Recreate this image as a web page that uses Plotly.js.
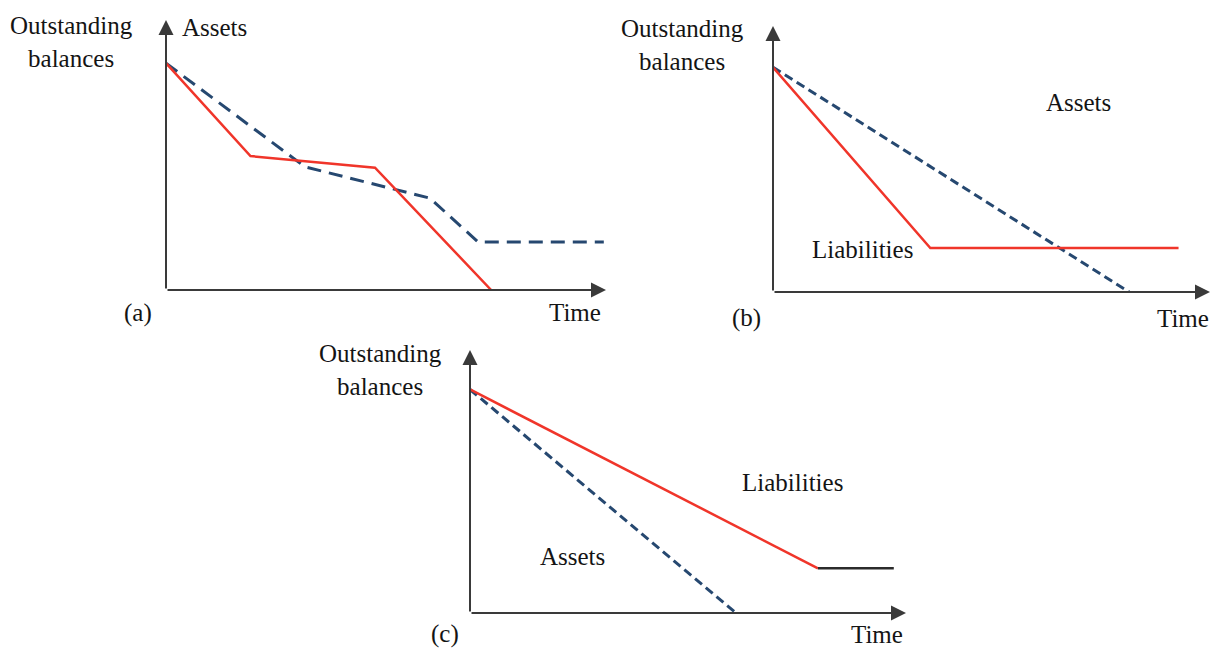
<!DOCTYPE html>
<html>
<head>
<meta charset="utf-8">
<script src="https://cdn.plot.ly/plotly-3.0.1.min.js"></script>
<style>html,body{margin:0;padding:0;background:#fff;}#chart{width:1213px;height:651px;}</style>
</head>
<body>
<div id="chart"></div>
<script>
// ---- Data (axis units: 0..10, where 10 is the arrow tip) ----
// Panel (a)
const aLiabX = [0, 1.92, 4.75, 7.39];
const aLiabY = [8.4, 4.96, 4.53, 0];
const aAssetX = [0, 3.16, 6.0, 7.09, 9.95];
const aAssetY = [8.4, 4.56, 3.4, 1.78, 1.78];
// Panel (b)
const bLiabX = [0, 3.6, 9.28];
const bLiabY = [8.45, 1.65, 1.65];
const bAssetX = [0, 8.15];
const bAssetY = [8.45, 0];
// Panel (c)
const cLiabX = [0, 7.98];
const cLiabY = [8.5, 1.7];
const cFlatX = [7.98, 9.72];
const cFlatY = [1.7, 1.7];
const cAssetX = [0, 6.1];
const cAssetY = [8.5, 0];

const yTitle = "Outstanding<br>balances";
const xTitle = "Time";
const panelLabels = ["(a)", "(b)", "(c)"];

const RED = "#f0352a";
const NAVY = "#264870";
const AXC = "#3a3a3a";
const FONT = {family: "Liberation Serif", size: 25, color: "#141414"};

function line(x, y, xa, ya, color, width, dash) {
  return {x: x, y: y, xaxis: xa, yaxis: ya, type: "scatter", mode: "lines",
          line: {color: color, width: width, dash: dash || "solid"},
          cliponaxis: false, hoverinfo: "skip"};
}

const traces = [
  line(aAssetX, aAssetY, "x", "y", NAVY, 3, "14px,8px"),
  line(aLiabX, aLiabY, "x", "y", RED, 2.5),
  line(bAssetX, bAssetY, "x2", "y2", NAVY, 3, "9px,5px"),
  line(bLiabX, bLiabY, "x2", "y2", RED, 2.5),
  line(cAssetX, cAssetY, "x3", "y3", NAVY, 3, "9px,5px"),
  line(cLiabX, cLiabY, "x3", "y3", RED, 2.5),
  line(cFlatX, cFlatY, "x3", "y3", "#2b2b2b", 2.5)
];

const W = 1213, H = 651;
function dom(px0, px1) { return [px0 / W, px1 / W]; }
function domY(pyBottom, pyTop) { return [1 - pyBottom / H, 1 - pyTop / H]; }

function ax(domain, anchor) {
  return {domain: domain, anchor: anchor, range: [0, 10], showgrid: false, zeroline: false,
          showline: false, showticklabels: false, ticks: "", fixedrange: true};
}

const layout = {
  width: W, height: H,
  margin: {l: 0, r: 0, t: 0, b: 0},
  paper_bgcolor: "#fff", plot_bgcolor: "rgba(0,0,0,0)",
  showlegend: false,
  font: {family: "Liberation Serif"},
  xaxis: ax(dom(166, 606), "y"),
  yaxis: ax(domY(290, 20), "x"),
  xaxis2: ax(dom(773, 1210), "y2"),
  yaxis2: ax(domY(292, 26), "x2"),
  xaxis3: ax(dom(470, 906), "y3"),
  yaxis3: ax(domY(613, 350), "x3"),
  annotations: []
};

const panels = [["x", "y"], ["x2", "y2"], ["x3", "y3"]];
panels.forEach(function (p) {
  const xr = p[0], yr = p[1];
  layout.annotations.push({xref: xr, yref: yr, axref: xr, ayref: yr, x: 10, y: 0, ax: 0, ay: 0,
    text: "", showarrow: true, arrowhead: 2, arrowsize: 1.5, arrowwidth: 2, arrowcolor: AXC});
  layout.annotations.push({xref: xr, yref: yr, axref: xr, ayref: yr, x: 0, y: 10, ax: 0, ay: 0,
    text: "", showarrow: true, arrowhead: 2, arrowsize: 1.5, arrowwidth: 2, arrowcolor: AXC});
});

function txt(text, axx, axy, x, y) {
  layout.annotations.push({text: text, xref: axx + " domain", yref: axy + " domain",
    x: x, y: y, xanchor: "center", yanchor: "middle", showarrow: false, font: FONT});
}
// Panel (a)
txt(yTitle, "x", "y", -0.214, 0.92);
txt("Assets", "x", "y", 0.11, 0.974);
txt(panelLabels[0], "x", "y", -0.064, -0.085);
txt(xTitle, "x", "y", 0.93, -0.085);
// Panel (b)
txt(yTitle, "x2", "y2", -0.206, 0.93);
txt("Assets", "x2", "y2", 0.70, 0.714);
txt("Liabilities", "x2", "y2", 0.204, 0.158);
txt(panelLabels[1], "x2", "y2", -0.06, -0.098);
txt(xTitle, "x2", "y2", 0.938, -0.098);
// Panel (c)
txt(yTitle, "x3", "y3", -0.206, 0.924);
txt("Liabilities", "x3", "y3", 0.74, 0.498);
txt("Assets", "x3", "y3", 0.236, 0.213);
txt(panelLabels[2], "x3", "y3", -0.057, -0.08);
txt(xTitle, "x3", "y3", 0.933, -0.08);

Plotly.newPlot("chart", traces, layout, {staticPlot: true, displayModeBar: false});
</script>
</body>
</html>
